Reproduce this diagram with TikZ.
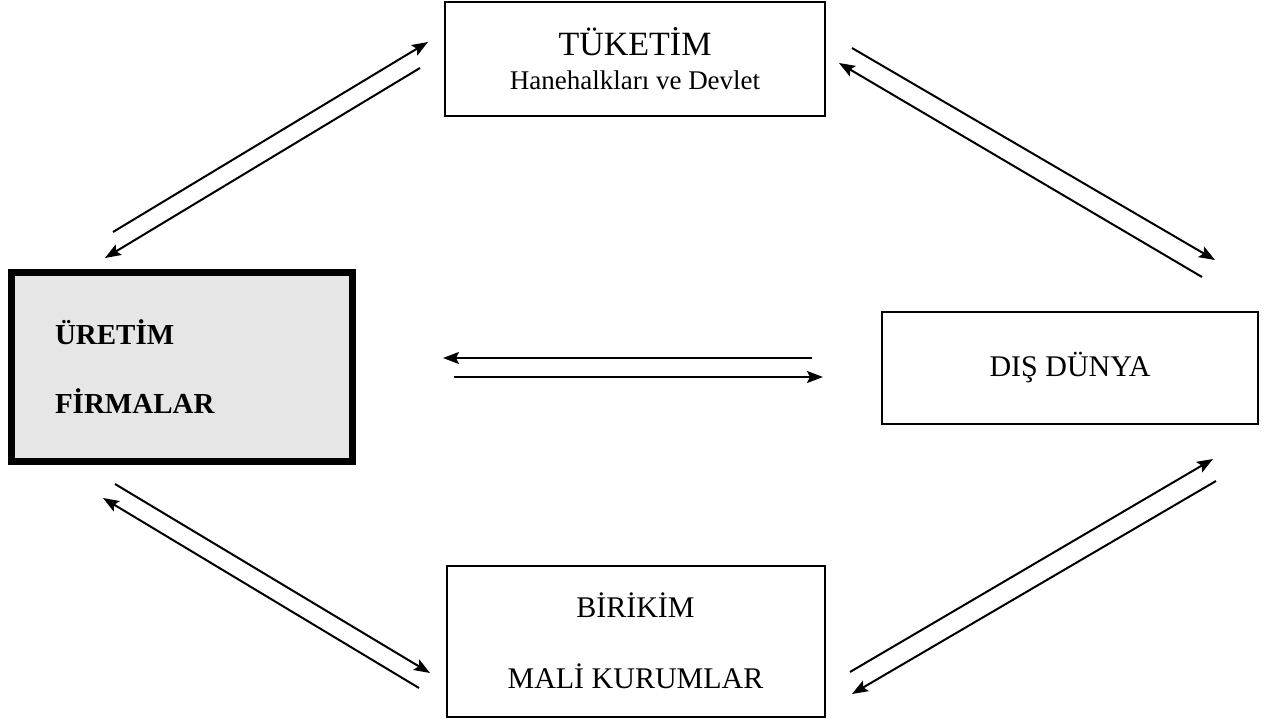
\documentclass[tikz,border=0pt]{standalone}
\usepackage{fontspec}
\setmainfont{Liberation Serif}
\usepackage{xcolor}
\usetikzlibrary{arrows.meta}
\definecolor{box-gray}{HTML}{E6E6E6}

\begin{document}
\begin{tikzpicture}
[
x = 0.5pt, y = -0.5pt,
box-a/.style  = {rectangle, draw, line width = 1pt, align = center, inner sep = 0pt},
box-b/.style  = {rectangle, draw, line width = 3.5pt, fill = box-gray, align = left,
                 inner xsep = 21.75pt, inner ysep = 0pt, text width = 127pt},
flow-a/.style = {line width = 1pt, -{Stealth[length = 8pt, width = 6pt, inset = 1.5pt]}}
]
\useasboundingbox (0,0) rectangle (1266,722);

% sectors
\node (tuketim)  [box-a, minimum width = 190pt, minimum height = 57pt, font = \fontsize{17}{17}\selectfont] at (635,59)
  {TÜKETİM\\{\fontsize{13.5}{17}\selectfont Hanehalkları ve Devlet}};
\node (uretim)   [box-b, minimum height = 94.5pt, font = \fontsize{14.5}{34.5}\selectfont\bfseries] at (182,367)
  {ÜRETİM\\FİRMALAR};
\node (disdunya) [box-a, minimum width = 188pt, minimum height = 56pt, font = \fontsize{15}{18}\selectfont] at (1070,368)
  {DIŞ DÜNYA};
\node (birikim)  [box-a, minimum width = 189pt, minimum height = 75.5pt, font = \fontsize{15}{35.5}\selectfont] at (635.5,641)
  {BİRİKİM\\MALİ KURUMLAR};

% arrow ends
\coordinate (ut-s) at (113,232);  \coordinate (ut-e) at (428,42);
\coordinate (tu-s) at (420,68);   \coordinate (tu-e) at (105,258);
\coordinate (td-s) at (852,48);   \coordinate (td-e) at (1215,260);
\coordinate (dt-s) at (1202,277); \coordinate (dt-e) at (839,63);
\coordinate (du-s) at (812,358);  \coordinate (du-e) at (443,358);
\coordinate (ud-s) at (454,377);  \coordinate (ud-e) at (823,377);
\coordinate (bd-s) at (850,672);  \coordinate (bd-e) at (1213,459);
\coordinate (db-s) at (1216,481); \coordinate (db-e) at (852,694);
\coordinate (ub-s) at (115,484);  \coordinate (ub-e) at (430,673);
\coordinate (bu-s) at (419,688);  \coordinate (bu-e) at (103,498);

% flows
\draw [flow-a] (ut-s) -- (ut-e);
\draw [flow-a] (tu-s) -- (tu-e);
\draw [flow-a] (td-s) -- (td-e);
\draw [flow-a] (dt-s) -- (dt-e);
\draw [flow-a] (du-s) -- (du-e);
\draw [flow-a] (ud-s) -- (ud-e);
\draw [flow-a] (bd-s) -- (bd-e);
\draw [flow-a] (db-s) -- (db-e);
\draw [flow-a] (ub-s) -- (ub-e);
\draw [flow-a] (bu-s) -- (bu-e);
\end{tikzpicture}
\end{document}
